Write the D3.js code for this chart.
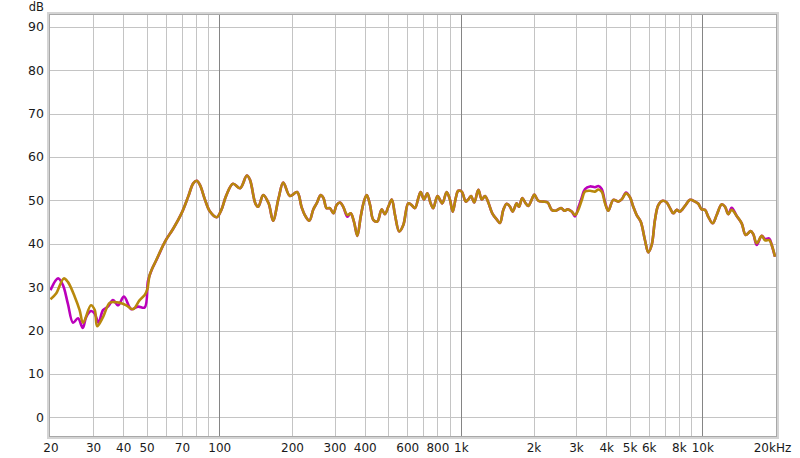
<!DOCTYPE html>
<html><head><meta charset="utf-8">
<script src="https://cdn.jsdelivr.net/npm/d3@7"></script>
<style>
body{margin:0;background:#fff}
svg{display:block}
text{font-family:"DejaVu Sans",sans-serif;font-size:12px;fill:#1a1a1a}
</style>
</head><body>
<svg id="c" width="800" height="458"></svg>
<script>
// ---- data ----
const freqLowA = [20,21.5,22.5,23.6,24.8,26.0,27.2,28.1,29.4,30.5,31.6,33.0,34.6,36.3,38.1,40.3,43.2,46.1,49.1,50.7,52.5,55.0];
const dbLowA   = [29.3,32.0,30.5,26.2,21.8,22.8,20.6,23.1,24.5,23.9,21.8,24.7,25.5,27.0,25.8,27.8,24.9,25.5,25.3,31.5,34.0,36.3];
const freqLowB = [20,21.1,22.7,23.6,25.2,26.4,27.3,29.4,30.5,31.2,33.0,35.2,37.5,39.3,41.2,43.9,46.8,49.1,50.4,51.5,55.0];
const dbLowB   = [27.2,28.5,32.0,31.2,27.8,24.7,21.8,25.8,24.7,21.0,23.1,26.4,26.5,26.3,25.8,24.9,27.0,28.2,29.6,32.8,36.4];
const freqMid = [59.6,64.5,69.9,74.4,78.0,80.6,83.2,87.3,91.5,97.5,
102,107,114,122,130,134,141,145,152,160,
167,176,184,196,210,219,226,236,245,253,
263,270,278,287,297,306,316,326,339,350,
361,373,385,397,408,421,434,451,470,485,
501,518,534,556,578,606,626,646,667,682,
704,727,750,769,801,838,874,902,926,953,
976,1009,1048,1074,1102,1137,1182,1221,1260,1300,
1350,1408,1453,1500,1549,1599,1640,1704,1742,1797,
1857,1903,1978,2016,2094,2196,2290,2379,2472,2600,
2683,2771,2879,2971,3066,3167,3268,3428,3595,3710,
3832,3955,4081,4280,4489,4637,4831,5018,5179,5350,
5557,5790,5976,6173,6370,6574,6855,7122,7349,7584,
7834,8084,8478,8896,9327,9625,9942,10260,10590,11040,
11470,12030,12420,12810,13230,13880,14560,15120,15860,16260,
16800,17620,18180,18940,19380,20000];
const dbMidA = [40.5,43.5,47.1,50.9,53.9,54.5,53.5,50.1,47.4,46.1,
47.8,51.2,53.8,52.8,55.7,54.7,49.3,48.5,51.2,49.3,
45.3,50.5,54.1,51.0,51.9,48.5,46.6,45.3,47.9,49.3,
51.2,50.5,48.2,48.2,47.0,48.9,49.5,48.5,46.2,47.0,
45.1,41.8,46.2,49.7,51.2,48.9,45.5,45.1,47.9,46.8,
48.5,50.2,46.6,42.8,44.3,49.3,48.9,48.2,50.5,51.9,
50.2,51.6,49.3,48.2,51.0,49.3,51.9,50.1,47.4,50.5,
52.2,52.0,49.7,50.2,51.0,49.5,52.4,50.2,51.0,49.5,
47.0,45.6,44.8,47.8,49.2,48.5,47.4,49.3,48.5,50.5,
49.3,48.7,50.5,51.3,49.9,49.7,49.5,47.8,47.6,48.2,
47.6,47.9,47.4,46.3,48.3,50.6,52.6,53.2,53.0,53.3,
52.6,49.6,47.6,50.1,49.7,50.2,51.8,50.7,48.5,46.6,
45.1,40.8,38.0,39.7,45.5,48.9,49.9,49.5,48.2,47.0,
47.8,47.4,48.7,50.1,49.7,49.2,47.9,47.8,46.2,44.7,
46.6,49.1,48.5,46.8,48.3,46.4,44.7,42.0,42.9,42.2,
39.7,41.8,41.1,41.2,39.7,37.0];
const dbMidB = [40.5,43.5,47.1,50.9,53.9,54.5,53.5,50.1,47.4,46.1,
47.8,51.2,53.8,52.8,55.7,54.7,49.3,48.5,51.2,49.3,
45.3,50.5,54.1,51.0,51.9,48.5,46.6,45.3,47.9,49.3,
51.2,50.5,48.2,48.2,47.0,48.9,49.5,48.5,46.6,47.0,
45.1,41.8,46.2,49.7,51.2,48.9,45.5,45.1,47.9,46.8,
48.5,50.2,46.6,42.8,44.3,49.3,48.9,48.2,50.5,51.9,
50.2,51.6,49.3,48.2,51.0,49.3,51.9,50.1,47.4,50.5,
52.2,52.0,49.7,50.2,51.0,49.5,52.4,50.2,51.0,49.5,
47.0,45.6,44.8,47.8,49.2,48.5,47.4,49.3,48.5,50.5,
49.3,48.7,50.5,51.3,49.9,49.7,49.5,47.8,47.6,48.2,
47.6,47.9,47.4,46.6,47.8,50.0,52.0,52.2,52.0,52.5,
52.0,49.3,47.6,50.1,49.7,50.2,51.6,50.7,48.5,46.6,
45.1,40.8,38.0,39.7,45.5,48.9,49.9,49.5,48.2,47.0,
47.8,47.4,48.7,50.1,49.7,49.2,47.9,47.8,46.2,44.7,
46.6,49.1,48.5,46.8,47.8,46.4,44.7,42.0,42.9,42.2,
40.1,41.8,40.8,40.8,39.7,37.0];
const yTicks = [0,10,20,30,40,50,60,70,80,90];
const xGridMinor = [30,40,50,60,70,80,90,200,300,400,500,600,700,800,900,2000,3000,4000,5000,6000,7000,8000,9000];
const xGridMajor = [100,1000,10000];
const xLabelVals = [20,30,40,50,70,100,200,300,400,600,800,1000,2000,3000,4000,5000,6000,8000,10000,20000];
const xLabelText = ["20","30","40","50","70","100","200","300","400","600","800","1k","2k","3k","4k","5k","6k","8k","10k","20kHz"];

// ---- layout ----
const L = 50, R = 776, T = 15, B = 436;
const svg = d3.select("#c");
const x = d3.scaleLog().domain([20, 20000]).range([50.5, 775]);
const y = d3.scaleLinear().domain([0, 90]).range([417.3, 26.7]);

svg.append("rect").attr("x", L).attr("y", T).attr("width", R - L).attr("height", B - T).attr("fill", "#fff");

// grid via axes
const gH = svg.append("g").attr("transform", `translate(${L},0)`)
  .call(d3.axisLeft(y).tickValues(yTicks).tickSize(-(R - L)).tickFormat(""));
gH.select(".domain").remove();
gH.selectAll("line").attr("stroke", "#c4c4c4").attr("shape-rendering", "crispEdges");

const gV = svg.append("g").attr("transform", `translate(0,${B})`)
  .call(d3.axisBottom(x).tickValues(xGridMinor).tickSize(-(B - T)).tickFormat(""));
gV.select(".domain").remove();
gV.selectAll("line").attr("stroke", "#c4c4c4").attr("shape-rendering", "crispEdges");

const gM = svg.append("g").attr("transform", `translate(0,${B})`)
  .call(d3.axisBottom(x).tickValues(xGridMajor).tickSize(-(B - T)).tickFormat(""));
gM.select(".domain").remove();
gM.selectAll("line").attr("stroke", "#858585").attr("shape-rendering", "crispEdges");

// curves
svg.append("clipPath").attr("id", "clip").append("rect")
  .attr("x", L).attr("y", T).attr("width", R - L).attr("height", B - T);

const line = d3.line().x(d => x(d[0])).y(d => y(d[1])).curve(d3.curveCatmullRom.alpha(0.5));
const seriesA = freqLowA.concat(freqMid).map((f, i) => [f, dbLowA.concat(dbMidA)[i]]);
const seriesB = freqLowB.concat(freqMid).map((f, i) => [f, dbLowB.concat(dbMidB)[i]]);

const gc = svg.append("g").attr("clip-path", "url(#clip)");
gc.append("path").datum(seriesA).attr("d", line).attr("fill", "none")
  .attr("stroke", "#bb00bb").attr("stroke-width", 2.6).attr("stroke-linejoin", "round");
gc.append("path").datum(seriesB).attr("d", line).attr("fill", "none")
  .attr("stroke", "#b8880c").attr("stroke-width", 2.6).attr("stroke-linejoin", "round");

// frame with shadow look
svg.append("rect").attr("x", L - 1.5).attr("y", T - 1.5).attr("width", R - L + 3).attr("height", B - T + 3)
  .attr("fill", "none").attr("stroke", "#d4d4d4").attr("stroke-width", 3);
svg.append("rect").attr("x", L - 0.5).attr("y", T - 0.5).attr("width", R - L + 1).attr("height", B - T + 1)
  .attr("fill", "none").attr("stroke", "#a8a8a8").attr("stroke-width", 1);

// labels via axes
const ay = svg.append("g").attr("transform", `translate(${L},0)`)
  .call(d3.axisLeft(y).tickValues(yTicks).tickSize(0).tickPadding(6));
ay.select(".domain").remove();
ay.selectAll("text").style("font-family", "DejaVu Sans").style("font-size", "12.5px").attr("fill", "#1a1a1a");

const ax = svg.append("g").attr("transform", `translate(0,${B})`)
  .call(d3.axisBottom(x).tickValues(xLabelVals).tickSize(0).tickPadding(7.5)
    .tickFormat((d, i) => xLabelText[i]));
ax.select(".domain").remove();
ax.selectAll("text").style("font-family", "DejaVu Sans").style("font-size", "12px").attr("fill", "#1a1a1a");
ax.selectAll("text").filter((d, i) => i === xLabelVals.length - 1).attr("dx", "-3");

svg.append("text").attr("x", 44).attr("y", 10.5).attr("text-anchor", "end")
  .style("font-size", "11.5px").text("dB");
</script>
</body></html>
